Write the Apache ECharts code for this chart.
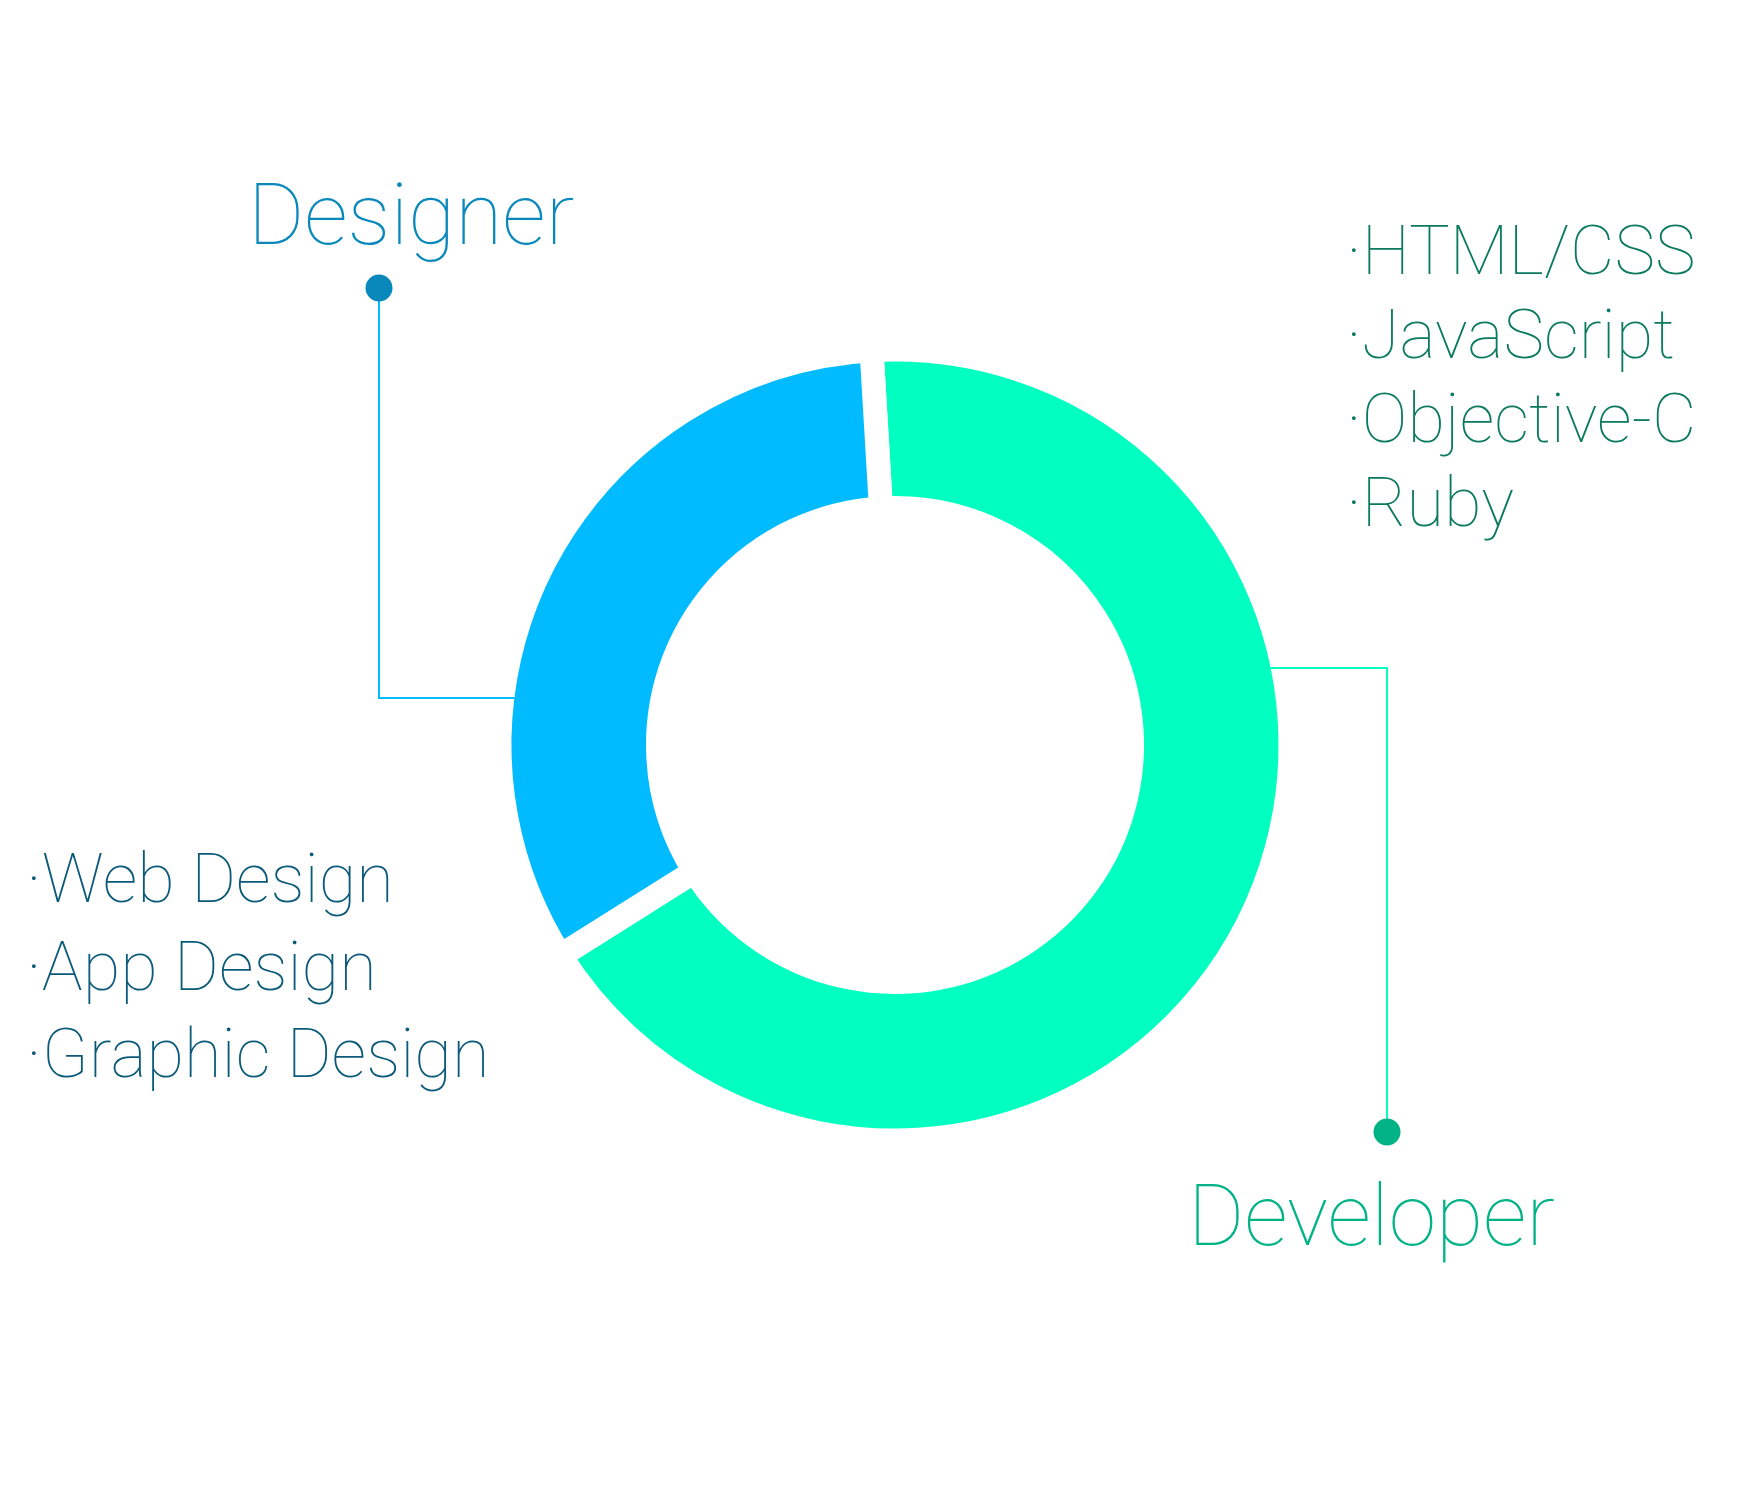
<!DOCTYPE html>
<html><head><meta charset="utf-8">
<script src="https://cdn.jsdelivr.net/npm/echarts@6/dist/echarts.min.js"></script>
<style>html,body{margin:0;padding:0;background:#fff}#c{width:1756px;height:1500px}</style>
</head><body><div id="c"></div>
<script>
// ---- data ----
const categories = ['Developer', 'Designer'];
const values = [67, 33];
const developerSkills = ['HTML/CSS', 'JavaScript', 'Objective-C', 'Ruby'];
const designerSkills = ['Web Design', 'App Design', 'Graphic Design'];

// ---- layout / style ----
const FONT_FAMILY = 'Roboto, "Helvetica Neue", sans-serif';
const W = 100;
const CX = 895, CY = 745, R_OUT = 383.5, R_IN = 249, GAP = 24;
const sliceColors = { Developer: '#00FFC0', Designer: '#00BBFF' };
const labelColors = { Developer: '#00B386', Designer: '#0888BB' };
const anchors = {
  Designer:  { side: -1, ringY: 698, elbowX: 379, dotY: 288,  textX: 248,  textY: 222, size: 86 },
  Developer: { side: 1,  ringY: 668, elbowX: 1387, dotY: 1132, textX: 1188, textY: 1223, size: 86 }
};
const lists = [
  { items: developerSkills, x: 1346, y0: 257, step: 84, color: '#0B7A5E', size: 68.5 },
  { items: designerSkills, x: 26, y0: 885, step: 87.5, color: '#0B5A7A', size: 68.5 }
];

const chart = echarts.init(document.getElementById('c'), null, { renderer: 'canvas' });

const graphic = [];
categories.forEach(function (name) {
  const a = anchors[name];
  const dy = a.ringY - CY;
  const ringX = CX + a.side * Math.sqrt(R_OUT * R_OUT - dy * dy);
  graphic.push({
    type: 'polyline', z: 100,
    shape: { points: [[ringX, a.ringY], [a.elbowX, a.ringY], [a.elbowX, a.dotY]] },
    style: { stroke: sliceColors[name], lineWidth: 2, fill: null }
  });
  graphic.push({ type: 'circle', z: 101, shape: { cx: a.elbowX, cy: a.dotY, r: 13.5 }, style: { fill: labelColors[name] } });
});
lists.forEach(function (l) {
  l.items.forEach(function (s, i) {
    graphic.push({
      type: 'text', x: l.x, y: l.y0 + i * l.step,
      style: { text: '\u00B7' + s, font: W + ' ' + l.size + 'px ' + FONT_FAMILY, fill: l.color, verticalAlign: 'middle', align: 'left' }
    });
  });
});

chart.setOption({
  animation: false,
  backgroundColor: '#ffffff',
  graphic: graphic,
  series: [{
    type: 'pie',
    center: [CX, CY],
    radius: [R_IN - GAP / 2, R_OUT + GAP / 2],
    startAngle: 93.4,
    clockwise: true,
    avoidLabelOverlap: false,
    emphasis: { disabled: true },
    itemStyle: { borderColor: '#ffffff', borderWidth: GAP },
    label: { show: true, position: 'outside', fontFamily: FONT_FAMILY, fontWeight: W },
    labelLine: { show: false },
    labelLayout: function (p) {
      const a = anchors[categories[p.dataIndex]];
      return { x: a.textX, y: a.textY, align: 'left', verticalAlign: 'middle' };
    },
    data: categories.map(function (name, i) {
      return {
        name: name, value: values[i],
        itemStyle: { color: sliceColors[name] },
        label: { color: labelColors[name], fontSize: anchors[name].size }
      };
    })
  }]
});
</script></body></html>
